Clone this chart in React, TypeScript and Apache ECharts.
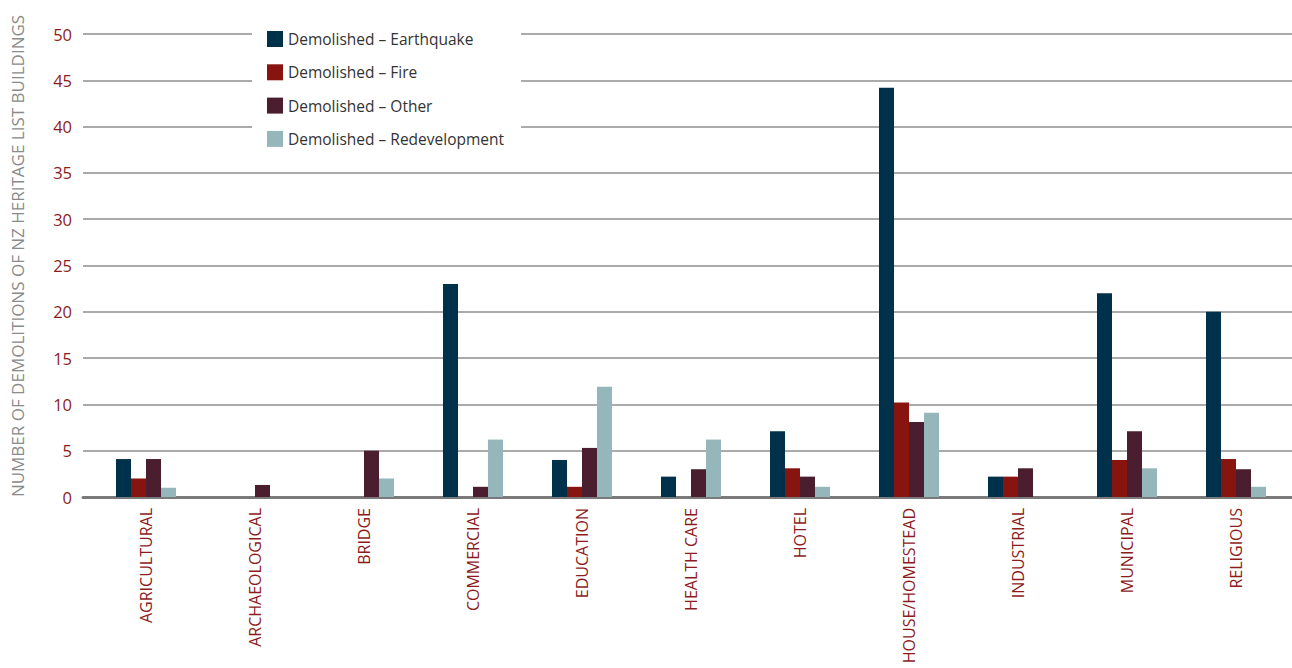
import React, { useEffect, useRef } from "react";
import * as echarts from "echarts";

const categories = [
  "AGRICULTURAL",
  "ARCHAEOLOGICAL",
  "BRIDGE",
  "COMMERCIAL",
  "EDUCATION",
  "HEALTH CARE",
  "HOTEL",
  "HOUSE/HOMESTEAD",
  "INDUSTRIAL",
  "MUNICIPAL",
  "RELIGIOUS",
];

const seriesNames = [
  "Demolished – Earthquake",
  "Demolished – Fire",
  "Demolished – Other",
  "Demolished – Redevelopment",
];

const earthquake = [4.1, 0, 0, 23, 4, 2.2, 7.1, 44.2, 2.2, 22, 20];
const fire = [2, 0, 0, 0, 1.1, 0, 3.1, 10.2, 2.2, 4, 4.1];
const other = [4.1, 1.3, 5, 1.1, 5.3, 3, 2.2, 8.1, 3.1, 7.1, 3];
const redevelopment = [1, 0, 2, 6.2, 11.9, 6.2, 1.1, 9.1, 0, 3.1, 1.1];

const yTicks = [0, 5, 10, 15, 20, 25, 30, 35, 40, 45, 50];

const colors = ["#00314b", "#88140f", "#4a1e2e", "#95b7bc"];

export default function App() {
  const ref = useRef<HTMLDivElement>(null);

  useEffect(() => {
    if (!ref.current) return;
    const chart = echarts.init(ref.current, null, { renderer: "svg" });
    const font = "'Open Sans', 'Noto Sans', sans-serif";
    const values = [earthquake, fire, other, redevelopment];
    chart.setOption({
      animation: false,
      textStyle: { fontFamily: font },
      grid: [
        { left: 83, right: 0, top: 34, height: 463 },
        { left: 91.5, right: 1.5, top: 34, height: 463 },
      ],
      legend: {
        orient: "vertical",
        left: 252,
        top: 17,
        padding: [14, 17, 14, 15],
        backgroundColor: "#ffffff",
        itemWidth: 16,
        itemHeight: 16,
        itemGap: 17.3,
        icon: "rect",
        data: seriesNames,
        textStyle: { fontFamily: font, fontSize: 15.5, color: "#333333" },
      },
      xAxis: [
        {
          gridIndex: 0,
          type: "value",
          min: 0,
          max: 1,
          axisLine: { show: true, lineStyle: { color: "#7a7a7a", width: 3 } },
          axisTick: { show: false },
          axisLabel: { show: false },
          splitLine: { show: false },
        },
        {
          gridIndex: 1,
          type: "category",
          data: categories,
          axisLine: { show: false },
          axisTick: { show: false },
          axisLabel: {
            rotate: 90,
            margin: 11,
            fontSize: 16,
            color: "#8c1c1c",
            fontFamily: font,
          },
        },
      ],
      yAxis: [
        {
          gridIndex: 0,
          type: "value",
          min: yTicks[0],
          max: yTicks[yTicks.length - 1],
          interval: 5,
          axisLine: { show: false },
          axisTick: { show: false },
          axisLabel: {
            margin: 11,
            fontSize: 16.5,
            color: "#8c1c1c",
            fontFamily: font,
          },
          splitLine: { show: true, lineStyle: { color: "#8e8e8e", width: 1.5 } },
        },
        {
          gridIndex: 1,
          type: "value",
          min: yTicks[0],
          max: yTicks[yTicks.length - 1],
          interval: 5,
          show: false,
          splitLine: { show: false },
        },
      ],
      graphic: [
        {
          type: "text",
          x: 17,
          y: 256,
          rotation: Math.PI / 2,
          style: {
            text: "NUMBER OF DEMOLITIONS OF NZ HERITAGE LIST BUILDINGS",
            fill: "#8a8a8a",
            fontSize: 17,
            fontFamily: font,
            align: "center",
            verticalAlign: "middle",
          },
        },
      ],
      series: seriesNames.map((name, i) => ({
        name,
        type: "bar",
        xAxisIndex: 1,
        yAxisIndex: 1,
        data: values[i],
        barWidth: 15,
        barGap: "0%",
        itemStyle: { color: colors[i] },
      })),
    });
    return () => chart.dispose();
  }, []);

  return (
    <div
      ref={ref}
      style={{ position: "fixed", left: 0, top: 0, width: 1292, height: 668, background: "#fff" }}
    />
  );
}
